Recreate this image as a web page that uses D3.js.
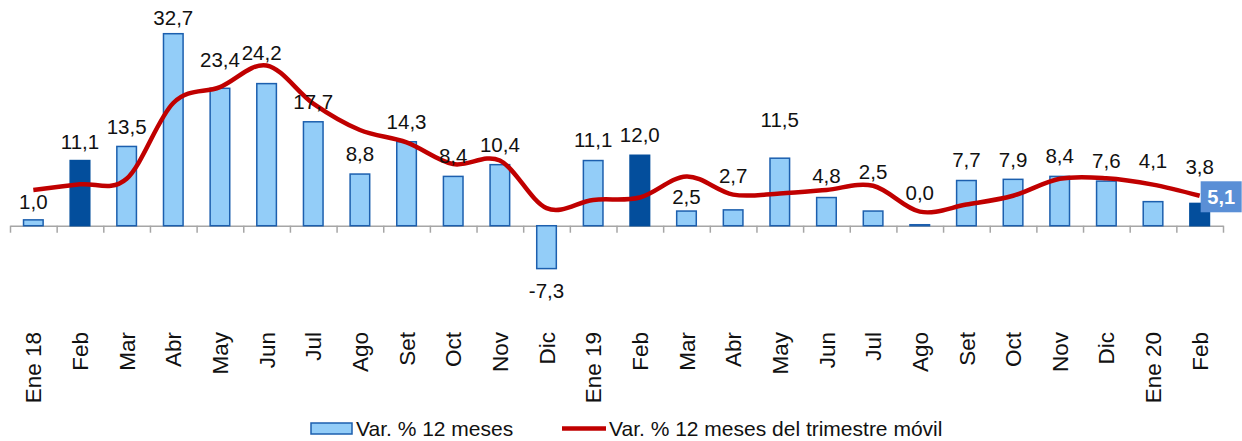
<!DOCTYPE html>
<html>
<head>
<meta charset="utf-8">
<script src="https://cdn.jsdelivr.net/npm/d3@7"></script>
<style>
    body { margin: 0; background: #ffffff; }
    svg { display: block; font-family: "Liberation Sans", Arial, sans-serif; }
</style>
</head>
<body>
<svg id="chart" width="1242" height="441"></svg>
<script>
// categories (months, Ene 18 .. Feb 20)
const months = ["Ene 18", "Feb", "Mar", "Abr", "May", "Jun", "Jul", "Ago", "Set", "Oct", "Nov", "Dic",
                "Ene 19", "Feb", "Mar", "Abr", "May", "Jun", "Jul", "Ago", "Set", "Oct", "Nov", "Dic",
                "Ene 20", "Feb"];
// Var. % 12 meses (bars)
const varMeses = [1.0, 11.1, 13.5, 32.7, 23.4, 24.2, 17.7, 8.8, 14.3, 8.4, 10.4, -7.3,
                  11.1, 12.0, 2.5, 2.7, 11.5, 4.8, 2.5, 0.0, 7.7, 7.9, 8.4, 7.6,
                  4.1, 3.8];
// Var. % 12 meses del trimestre movil (line)
const varTrimestre = [6.1, 7.05, 8.0, 20.9, 23.6, 27.3, 20.8, 16.3, 14.2, 10.5, 11.1, 3.0,
                      4.4, 4.8, 8.4, 5.3, 5.5, 6.1, 6.8, 2.4, 3.6, 5.1, 8.0, 8.1,
                      7.0, 5.1];
// bars drawn in dark blue (each February)
const darkBars = [1, 13, 25];
// how far each value label sits from its bar end (px)
const labelLift = [18, 19, 20, 16, 28, 31, 20, 20, 20, 21, 20, 22,
                   21, 20, 14, 34, 38, 22, 39, 33, 21, 20, 21, 20,
                   41, 37];

const legendItems = ["Var. % 12 meses", "Var. % 12 meses del trimestre móvil"];

const svg = d3.select("#chart");
const n = months.length;
const fmt = (v) => d3.format(".1f")(v).replace(".", ",").replace("\u2212", "-");

const x = d3.scaleBand()
            .domain(d3.range(n))
            .range([10, 1223])
            .paddingInner(0.58)
            .paddingOuter(0.29);
const xb = d3.scaleLinear()
             .domain([0, n])
             .range([10, 1223]);
const y = d3.scaleLinear()
            .domain([-7.3, 32.7])
            .range([268.6, 33.7]);
const cx = (i) => x(i) + x.bandwidth() / 2;

// axis at zero with ticks between categories
const axis = svg.append("g")
                .attr("class", "x-axis")
                .attr("transform", "translate(0," + y(0) + ")")
                .call(d3.axisBottom(xb)
                        .tickValues(d3.range(n + 1))
                        .tickSize(7)
                        .tickSizeOuter(0)
                        .tickFormat(""));
axis.selectAll("path, line")
    .style("stroke", "#a6a6a6")
    .style("stroke-width", 1.5);

// bars
svg.append("g")
   .attr("class", "bars")
   .selectAll("rect")
   .data(varMeses)
   .join("rect")
   .attr("x", (d, i) => x(i))
   .attr("y", (d) => y(Math.max(0, d)) - (d == 0 ? 1 : 0))
   .attr("width", x.bandwidth())
   .attr("height", (d) => Math.max(1, Math.abs(y(d) - y(0))))
   .style("fill", (d, i) => darkBars.includes(i) ? "#034e9c" : "#93cdf8")
   .style("stroke", (d, i) => darkBars.includes(i) ? "#034e9c" : "#1c5fae")
   .style("stroke-width", 1.5);

// smoothed line
const line = d3.line()
               .x((d, i) => cx(i))
               .y((d) => y(d))
               .curve(d3.curveCardinal.tension(0));
svg.append("path")
   .datum(varTrimestre)
   .attr("d", line)
   .style("fill", "none")
   .style("stroke", "#c00000")
   .style("stroke-width", 4.5)
   .style("stroke-linejoin", "round");

// value labels
svg.append("g")
   .attr("class", "labels")
   .selectAll("text")
   .data(varMeses)
   .join("text")
   .attr("x", (d, i) => cx(i) + (i == 5 ? -5 : 0))
   .attr("y", (d, i) => d < 0 ? y(d) + labelLift[i] : y(d) - labelLift[i])
   .attr("dy", "0.35em")
   .attr("text-anchor", "middle")
   .style("font-size", "20.5px")
   .style("fill", "#111111")
   .text((d) => fmt(d));

// end label of the line
const last = n - 1;
const endX = cx(last) + 1;
const endY = y(varTrimestre[last]) + 1;
svg.append("rect")
   .attr("x", endX)
   .attr("y", endY - 15.5)
   .attr("width", 41)
   .attr("height", 31)
   .style("fill", "#5a8fd6");
svg.append("text")
   .attr("x", endX + 20.5)
   .attr("y", endY)
   .attr("dy", "0.35em")
   .attr("text-anchor", "middle")
   .style("font-size", "20px")
   .style("font-weight", "bold")
   .style("fill", "white")
   .text(fmt(varTrimestre[last]));

// category labels
svg.append("g")
   .attr("class", "cat-labels")
   .selectAll("text")
   .data(months)
   .join("text")
   .attr("transform", (d, i) => "translate(" + cx(i) + ",332) rotate(-90)")
   .attr("dy", "0.36em")
   .attr("text-anchor", "end")
   .style("font-size", "22.5px")
   .style("fill", "#111111")
   .text((d) => d);

// legend
const legend = svg.append("g").attr("class", "legend");
legend.append("rect")
      .attr("x", 311)
      .attr("y", 423)
      .attr("width", 41)
      .attr("height", 11)
      .style("fill", "#93cdf8")
      .style("stroke", "#1c5fae")
      .style("stroke-width", 1.5);
legend.append("text")
      .attr("x", 356)
      .attr("y", 428.5)
      .attr("dy", "0.35em")
      .style("font-size", "21px")
      .style("fill", "#111111")
      .text(legendItems[0]);
legend.append("line")
      .attr("x1", 562)
      .attr("x2", 606)
      .attr("y1", 428.5)
      .attr("y2", 428.5)
      .style("stroke", "#c00000")
      .style("stroke-width", 4.5);
legend.append("text")
      .attr("x", 609)
      .attr("y", 428.5)
      .attr("dy", "0.35em")
      .style("font-size", "21px")
      .style("fill", "#111111")
      .text(legendItems[1]);
</script>
</body>
</html>
